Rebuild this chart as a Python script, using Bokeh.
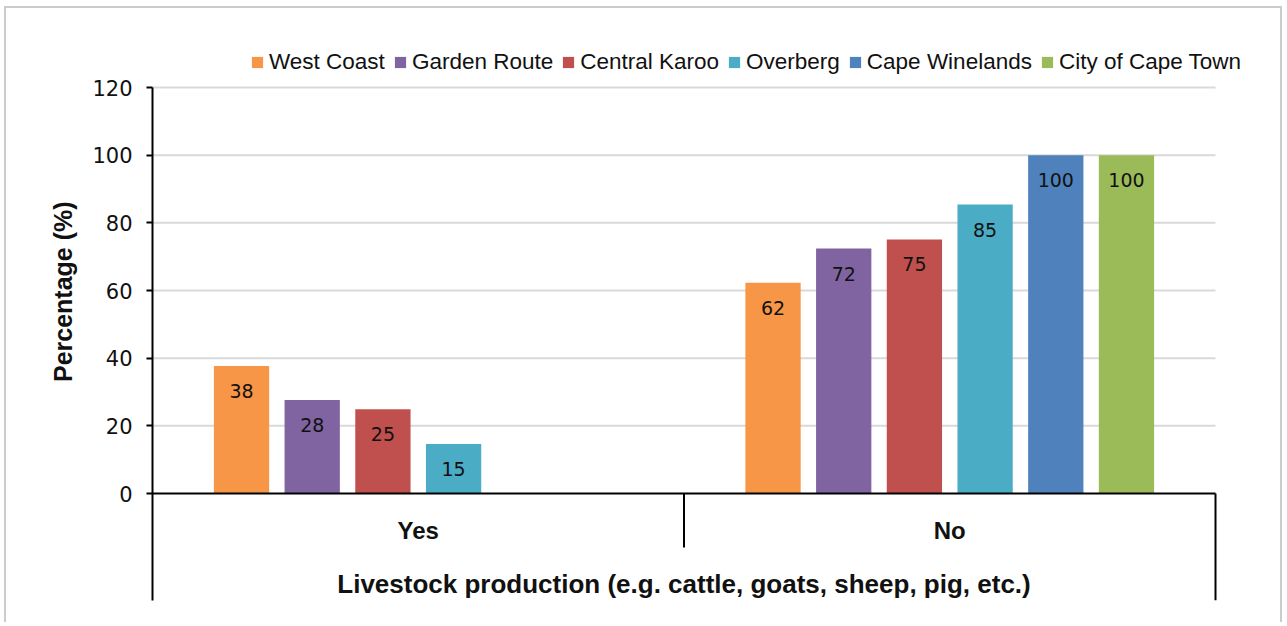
from bokeh.plotting import figure
from bokeh.models import Range1d, FixedTicker, Legend, LegendItem
from bokeh.core.properties import value
from bokeh.embed import file_html
from bokeh.resources import INLINE

# ---- data ----
regions = ["West Coast", "Garden Route", "Central Karoo", "Overberg",
           "Cape Winelands", "City of Cape Town"]
answers = ["Yes", "No"]
yes_vals = [37.7, 27.6, 24.9, 14.6, 0, 0]
no_vals = [62.3, 72.4, 75.1, 85.4, 100, 100]
colors = ["#F79646", "#8064A2", "#C0504D", "#4BACC6", "#4F81BD", "#9BBB59"]
y_ticks = [0, 20, 40, 60, 80, 100, 120]
x_title = "Livestock production (e.g. cattle, goats, sheep, pig, etc.)"
y_title = "Percentage (%)"

# ---- layout constants ----
W, H = 1278, 616
PX = 406 / 120.0                 # pixels per percentage point
Y_TOP_PX, Y_ZERO_PX = 79, 485    # pixel rows of 120 and 0
FRAME_LEFT, FRAME_RIGHT = 146, 1250
AXIS_RIGHT = 1209                # pixel column of the end of the category axis
FRAME_TOP, FRAME_BOTTOM = 30, 592
Y_START = -(FRAME_BOTTOM - Y_ZERO_PX) / PX
Y_END = 120 + (Y_TOP_PX - FRAME_TOP) / PX
N_CAT = len(answers)
X_END = N_CAT * (FRAME_RIGHT - FRAME_LEFT) / (AXIS_RIGHT - FRAME_LEFT)
STEP = 0.133
BAR_W = 0.104
TXT = "#111111"
# non-breaking spaces lift the axis title to the centre of the 0-120 span
TITLE_PAD = "\u00a0" * 8

p = figure(width=W, height=H, output_backend="svg", toolbar_location=None,
           x_range=Range1d(0, X_END), y_range=Range1d(Y_START, Y_END),
           min_border_left=FRAME_LEFT, min_border_right=W - FRAME_RIGHT,
           min_border_top=FRAME_TOP, min_border_bottom=H - FRAME_BOTTOM)
p.styles = {"margin-top": "6px", "margin-left": "4px",
            "border-top": "2px solid #CCCCCC", "border-left": "2px solid #CCCCCC",
            "border-right": "2px solid #CCCCCC"}
p.outline_line_color = None
p.background_fill_color = "white"
p.border_fill_color = "white"

p.xaxis.visible = False
p.xgrid.visible = False
p.ygrid.visible = False
p.yaxis.ticker = FixedTicker(ticks=y_ticks)
p.yaxis.bounds = (Y_START, 120)
p.yaxis.axis_line_color = "black"
p.yaxis.axis_line_width = 2
p.yaxis.major_tick_line_color = "black"
p.yaxis.major_tick_line_width = 2
p.yaxis.major_tick_out = 6
p.yaxis.major_tick_in = 0
p.yaxis.minor_tick_line_color = None
p.yaxis.major_label_text_font = "DejaVu Sans"
p.yaxis.major_label_text_font_size = "21px"
p.yaxis.major_label_text_color = TXT
p.yaxis.major_label_standoff = 14
p.yaxis.axis_label = TITLE_PAD + y_title
p.yaxis.axis_label_text_font = "Liberation Sans"
p.yaxis.axis_label_text_font_size = "25px"
p.yaxis.axis_label_text_font_style = "bold"
p.yaxis.axis_label_text_color = TXT
p.yaxis.axis_label_standoff = 12

# horizontal gridlines limited to the category axis extent
gy = y_ticks[1:]
p.segment(x0=[0] * len(gy), y0=gy, x1=[N_CAT] * len(gy), y1=gy,
          line_color="#D9D9D9", line_width=2)

items = []
for i, (reg, yv, nv, c) in enumerate(zip(regions, yes_vals, no_vals, colors)):
    off = (i - 2.5) * STEP
    xs = [0.5 + off, 1.5 + off]
    tops = [yv, nv]
    r = p.vbar(x=xs, top=tops, bottom=0, width=BAR_W, fill_color=c, line_color=None)
    items.append(LegendItem(label=reg, renderers=[r]))
    lx = [x for x, t in zip(xs, tops) if t > 0]
    lt = [t for t in tops if t > 0]
    p.text(x=lx, y=lt, text=["%.0f" % t for t in lt], y_offset=25,
           text_align="center", text_baseline="middle",
           text_font=value("DejaVu Sans"), text_font_size="19px", text_color=TXT)

# zero line
p.segment(x0=[0], y0=[0], x1=[N_CAT], y1=[0], line_color="black", line_width=2)

# category structure below axis
div_depth = 54 / PX
p.segment(x0=[1], y0=[0], x1=[1], y1=[-div_depth], line_color="black", line_width=2)
p.segment(x0=[N_CAT], y0=[0], x1=[N_CAT], y1=[Y_START], line_color="black", line_width=2)

p.text(x=[0.5, 1.5], y=[0, 0], text=answers, y_offset=37,
       text_align="center", text_baseline="middle",
       text_font=value("Liberation Sans"), text_font_size="24px",
       text_font_style="bold", text_color=TXT)
p.text(x=[1], y=[0], text=[x_title], y_offset=90,
       text_align="center", text_baseline="middle",
       text_font=value("Liberation Sans"), text_font_size="26px",
       text_font_style="bold", text_color=TXT)

legend = Legend(items=items, orientation="horizontal", location=(98, 525),
                padding=0, margin=0, spacing=8, label_standoff=5,
                glyph_width=14, glyph_height=14,
                label_text_font="Liberation Sans", label_text_font_size="22.5px",
                label_text_color=TXT,
                border_line_color=None, background_fill_alpha=0)
p.add_layout(legend)

open("out.html", "w").write(file_html(p, INLINE))
